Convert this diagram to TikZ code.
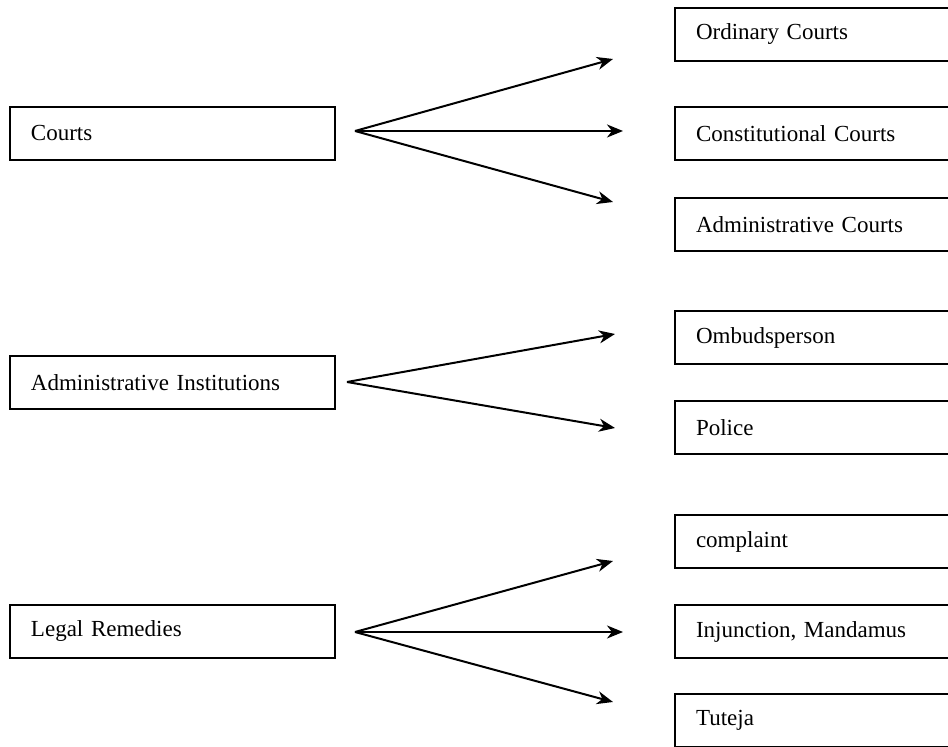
\documentclass[tikz,border=0pt]{standalone}
\usepackage{fontspec}
\setmainfont{Liberation Serif}
\usetikzlibrary{arrows.meta}
\usetikzlibrary{positioning}
\newcommand{\lineColor}{black}
\newcommand{\boxLine}{1pt}
\newcommand{\boxFont}{\fontsize{11.5}{14}\selectfont}
\tikzset{sourceBox/.style = {draw=\lineColor, line width=\boxLine, anchor=north west,
    minimum height=26.5pt, text width=141.5pt, inner xsep=10.5pt, align=left, font=\boxFont}}
\tikzset{targetBox/.style = {sourceBox, text width=132pt}}
\tikzset{branch/.style = {\lineColor, line width=1pt, -{Stealth[length=8pt, width=6.5pt, inset=2.5pt]}}}

\begin{document}
\begin{tikzpicture}[x=0.5pt, y=-0.5pt]
    \useasboundingbox (0,0) rectangle (948,747);

    % left column
    \node[sourceBox] (courts) at (9,106) {Courts};
    \node[sourceBox] (adminInst) at (9,355) {Administrative Institutions};
    \node[sourceBox] (remedies) at (9,604) {Legal Remedies};

    % right column
    \node[targetBox] (ordCourts) at (674,7) {Ordinary Courts};
    \node[targetBox] (constCourts) at (674,106) {Constitutional Courts};
    \node[targetBox] (adminCourts) at (674,197) {Administrative Courts};
    \node[targetBox] (ombud) at (674,310) {Ombudsperson};
    \node[targetBox] (police) at (674,400) {Police};
    \node[targetBox] (complaint) at (674,514) {complaint};
    \node[targetBox] (injunction) at (674,604) {Injunction, Mandamus};
    \node[targetBox] (tuteja) at (674,693) {Tuteja};

    % fork points and arrow ends
    \coordinate (courtsFork) at (355,131);
    \coordinate (adminFork) at (347,382);
    \coordinate (remediesFork) at (355,632);

    \coordinate (ordEnd) at (613,59);
    \coordinate (constEnd) at (623,131);
    \coordinate (adminCEnd) at (613,202);
    \coordinate (ombudEnd) at (615,334);
    \coordinate (policeEnd) at (615,428);
    \coordinate (complaintEnd) at (613,561);
    \coordinate (injunctionEnd) at (623,632);
    \coordinate (tutejaEnd) at (613,702);

    \foreach \p/\q in {courtsFork/ordEnd, courtsFork/constEnd, courtsFork/adminCEnd,
            adminFork/ombudEnd, adminFork/policeEnd,
            remediesFork/complaintEnd, remediesFork/injunctionEnd, remediesFork/tutejaEnd}
    {
        \draw[branch] (\p) -- (\q);
    }
\end{tikzpicture}
\end{document}
